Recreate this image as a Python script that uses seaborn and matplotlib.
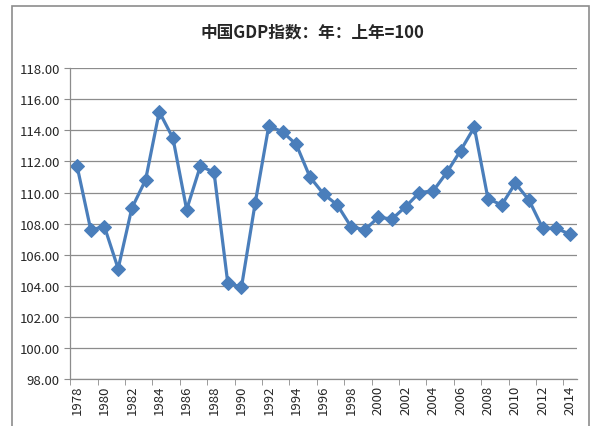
import numpy as np
import pandas as pd
import matplotlib
matplotlib.use("Agg")
import matplotlib.pyplot as plt
from matplotlib.patches import Rectangle
import seaborn as sns

# GDP index, previous year = 100
years = list(range(1978, 2015))
gdp_index = [111.7, 107.6, 107.8, 105.1, 109.0, 110.8, 115.2, 113.5, 108.9, 111.7,
             111.3, 104.2, 103.9, 109.3, 114.3, 113.9, 113.1, 111.0, 109.9, 109.2,
             107.8, 107.6, 108.4, 108.3, 109.1, 110.0, 110.1, 111.3, 112.7, 114.2,
             109.6, 109.2, 110.6, 109.5, 107.7, 107.7, 107.3]
title = "中国GDP指数：年：上年=100"

df = pd.DataFrame({"pos": np.arange(len(years)), "year": years, "value": gdp_index})

sns.set_style("white")
plt.rcParams['font.family'] = ['Noto Sans CJK SC', 'DejaVu Sans']

fig = plt.figure(figsize=(5.9, 4.27), dpi=100)
ax = fig.add_axes([0.119, 0.110, 0.859, 0.728])

blue = "#4A7EBB"
sns.lineplot(data=df, x="pos", y="value", ax=ax, color=blue, linewidth=2.3,
             marker="D", markersize=7, markeredgecolor=blue, markerfacecolor=blue)

ax.set_xlim(-0.5, len(years) - 0.5)
ax.set_ylim(98, 118)
ax.set_yticks(np.arange(98, 118.1, 2))
ax.set_yticklabels([f"{v:.2f}" for v in np.arange(98, 118.1, 2)], fontsize=9.5)
ax.yaxis.grid(True, color="#8C8C8C", linewidth=0.9)
ax.xaxis.grid(False)

label_pos = df["pos"][::2]
ax.set_xticks(label_pos)
ax.set_xticklabels([str(y) for y in df["year"][::2]], rotation=90, fontsize=9.5)
ax.set_xticks(np.arange(-0.5, len(years), 2), minor=True)
ax.tick_params(axis="x", which="major", length=0, pad=4)
ax.tick_params(axis="x", which="minor", length=4, color="#8C8C8C", bottom=True)
ax.tick_params(axis="y", length=4, color="#8C8C8C", left=True)

ax.set_xlabel("")
ax.set_ylabel("")
for s in ["top", "right"]:
    ax.spines[s].set_visible(False)
for s in ["left", "bottom"]:
    ax.spines[s].set_color("#8C8C8C")
    ax.spines[s].set_linewidth(0.9)

fig.text(0.53, 0.925, title, ha="center", va="center", fontsize=12, fontweight="bold")

# outer chart frame
fig.patches.append(Rectangle((12 / 590, -0.05), 577 / 590, 1 - 7 / 427 + 0.05,
                             transform=fig.transFigure, fill=False,
                             edgecolor="#8C8C8C", linewidth=1.2))

fig.savefig("out.png", dpi=100)
